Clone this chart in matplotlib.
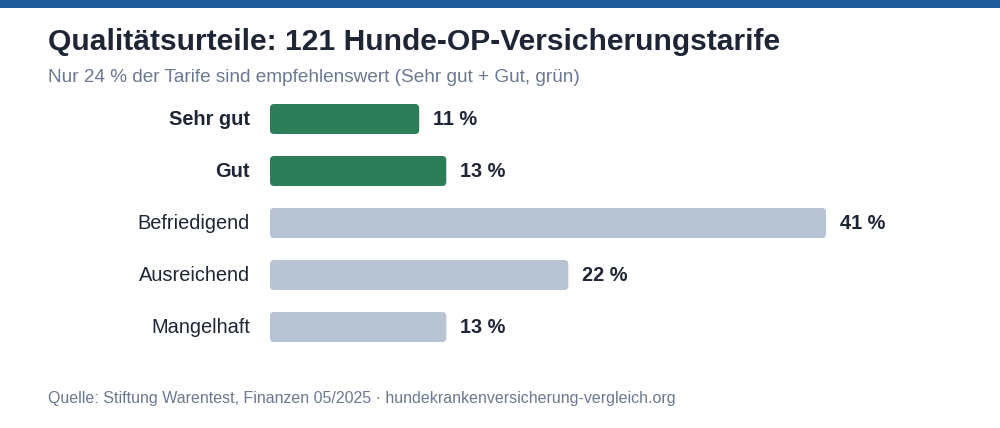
import matplotlib
matplotlib.use("Agg")
import matplotlib.pyplot as plt
from matplotlib.patches import FancyBboxPatch, Rectangle
from matplotlib.transforms import offset_copy

plt.rcParams['font.family'] = ['Liberation Sans', 'DejaVu Sans']

categories = ["Sehr gut", "Gut", "Befriedigend", "Ausreichend", "Mangelhaft"]
values = [11, 13, 41, 22, 13]
recommended = [True, True, False, False, False]

title = "Qualitätsurteile: 121 Hunde-OP-Versicherungstarife"
subtitle = "Nur 24 % der Tarife sind empfehlenswert (Sehr gut + Gut, grün)"
source = "Quelle: Stiftung Warentest, Finanzen 05/2025 · hundekrankenversicherung-vergleich.org"

GREEN = "#2e7d5a"
GRAY = "#b8c3d4"
DARK = "#1e2535"
MUTED = "#6b7891"
TOPBAR = "#1f5c99"

W, H = 1000, 428
fig = plt.figure(figsize=(W / 100, H / 100), dpi=100)
fig.patch.set_facecolor("white")

# top bar
fig.patches.append(Rectangle((0, 1 - 8 / H), 1, 8 / H, transform=fig.transFigure,
                             facecolor=TOPBAR, edgecolor="none"))

fig.text(48 / W, 1 - 42.5 / H, title, fontsize=21.6, fontweight="bold", color=DARK,
         va="center", ha="left")
fig.text(48 / W, 1 - 77 / H, subtitle, fontsize=13.7, color=MUTED, va="center", ha="left")
fig.text(48 / W, 1 - 399 / H, source, fontsize=11.5, color=MUTED, va="center", ha="left")

ax_left, ax_top, ax_bottom = 270, 93, 353
ax = fig.add_axes([ax_left / W, 1 - ax_bottom / H, 556 / W, (ax_bottom - ax_top) / H])
ax.set_xlim(0, max(values))
ax.set_ylim(len(categories) - 0.5, -0.5)
ax.axis("off")

px_x = 556 / max(values)          # pixels per x unit
px_y = (ax_bottom - ax_top) / len(categories)  # pixels per y unit
radius_px = 4
bar_h = 30 / px_y

for i, (cat, v, rec) in enumerate(zip(categories, values, recommended)):
    color = GREEN if rec else GRAY
    rx = radius_px / px_x
    ry = radius_px / px_y
    patch = FancyBboxPatch((0, i - bar_h / 2), v, bar_h,
                           boxstyle=f"round,pad=0,rounding_size={rx}",
                           mutation_aspect=ry / rx,
                           facecolor=color, edgecolor="none")
    ax.add_patch(patch)
    ax.text(v, i, f"{v} %", transform=offset_copy(ax.transData, fig=fig, x=14, y=-0.5, units="dots"),
            fontsize=14.4, fontweight="bold", color=DARK, va="center", ha="left")
    ax.text(0, i, cat, transform=offset_copy(ax.transData, fig=fig, x=-20, y=-0.5, units="dots"),
            fontsize=14.4, fontweight="bold" if rec else "normal", color=DARK,
            va="center", ha="right")

fig.savefig("out.png", dpi=100)
